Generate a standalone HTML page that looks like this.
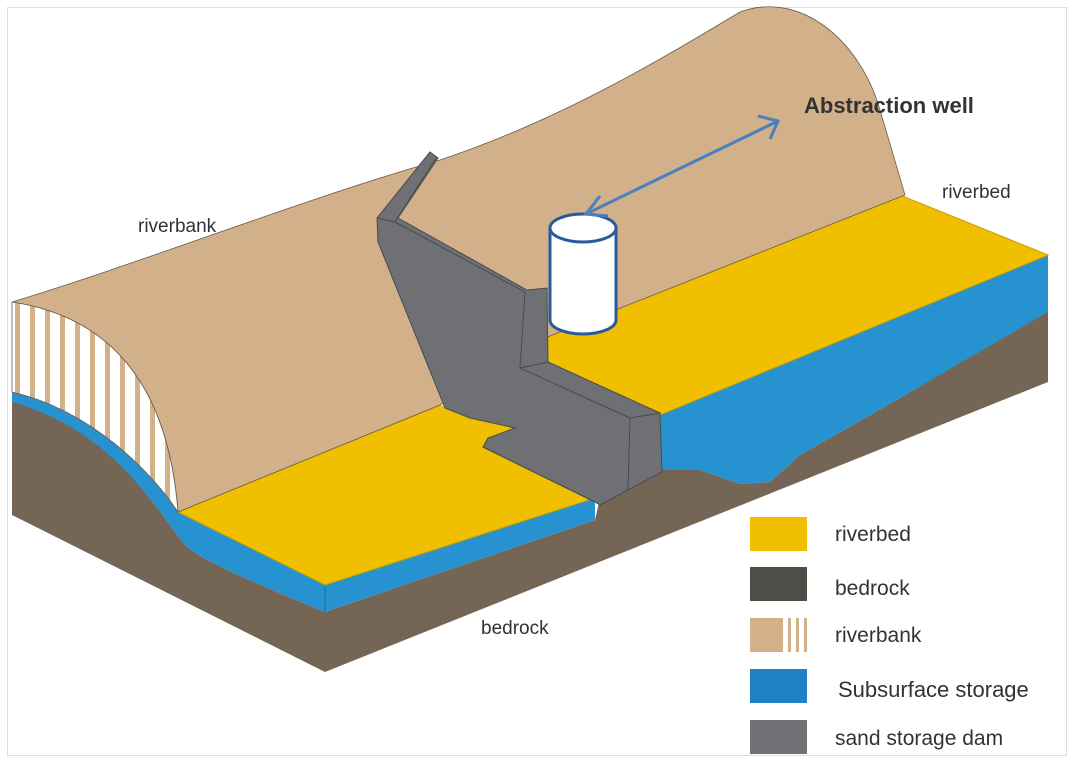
<!DOCTYPE html>
<html><head><meta charset="utf-8"><style>
html,body{margin:0;padding:0;background:#fff;}
svg{display:block;}
text{font-family:"Liberation Sans",sans-serif;fill:#333;}
</style></head><body>
<svg width="1072" height="762" viewBox="0 0 1072 762" xmlns="http://www.w3.org/2000/svg">
<defs>
<pattern id="hatch" patternUnits="userSpaceOnUse" width="15" height="10">
<rect width="15" height="10" fill="#fff"/>
<rect x="0" width="5" height="10" fill="#d2b08a"/>
</pattern>
<pattern id="hatch2" patternUnits="userSpaceOnUse" x="780" width="8" height="10">
<rect width="8" height="10" fill="#fff"/>
<rect x="0" width="3" height="10" fill="#d2b08a"/>
</pattern>
</defs>
<rect x="7.5" y="7.5" width="1059" height="748" fill="#fff" stroke="#ddd"/>
<!-- bedrock -->
<path d="M12,392 L12,515 L325,672 L1048,382 L1048,310 L900,398 L800,455 L770,482 L740,484 L700,470 L662,470 L640,478 L600,498 L595,520 L325,612 C260,585 200,560 185,545 C150,500 110,430 12,400 Z" fill="#746554"/>
<!-- blue left -->
<path d="M12,392 C90,410 150,470 178,512 L325,585 L595,498 L595,520 L325,612 C260,585 200,560 185,545 C150,500 110,430 12,402 Z" fill="#2692d0"/>
<line x1="325" y1="587" x2="325" y2="612" stroke="#1f6fa0" stroke-width="1"/>
<!-- blue right -->
<path d="M660,415 L1048,255 L1048,312 L900,398 L800,455 L770,482 L740,484 L700,470 L662,470 Z" fill="#2692d0"/>
<!-- yellow left -->
<path d="M178,512 L440,405 L470,412 L525,420 L535,445 L595,498 L325,585 Z" fill="#f0bf00"/>
<path d="M178,512 L440,405 M178,512 L325,585 L595,498" fill="none" stroke="#c9a000" stroke-width="1"/>
<!-- yellow right -->
<path d="M540,340 L900,195 L1048,255 L660,415 L548,362 Z" fill="#f0bf00" stroke="#c9a000" stroke-width="1"/>
<!-- bank -->
<path d="M12,302 C150,260 300,200 440,160 C560,120 660,60 740,12 C800,-10 860,40 880,110 L905,195 L540,340 L440,405 L178,512 C170,410 130,320 12,302 Z" fill="#d2b08a" stroke="#6b5a48" stroke-width="0.8"/>
<!-- hatch -->
<path d="M12,302 C130,320 170,410 178,512 C150,470 90,410 12,392 Z" fill="url(#hatch)" stroke="#6b5a48" stroke-width="0.8"/>
<!-- dam -->
<path d="M430,152 L438,158 L398,218 L527,290 L547,288 L548,362 L660,413 L662,472 L628,490 L600,505 L595,502 L483,447 L488,438 L515,428 L470,418 L445,408 L378,242 L377,218 Z" fill="#6e7074" stroke="#4a4b4e" stroke-width="1"/>
<path d="M377,218 L395,222 L525,292 L520,368 L630,418 L628,490 M395,222 L436,158 M520,368 L548,362 M630,418 L660,413 M483,447 L595,502" fill="none" stroke="#4a4b4e" stroke-width="1"/>
<!-- well -->
<path d="M550,228 L550,320 A33,14 0 0 0 616,320 L616,228 Z" fill="#fff" stroke="#2b5a9a" stroke-width="3"/>
<ellipse cx="583" cy="228" rx="33" ry="14" fill="#fff" stroke="#2b5a9a" stroke-width="3"/>
<!-- arrow -->
<line x1="590" y1="212" x2="776" y2="122" stroke="#4a7fc0" stroke-width="3"/>
<path d="M600,196 L586,214 L608,216" fill="none" stroke="#4a7fc0" stroke-width="3"/>
<path d="M758,116 L778,121 L770,139" fill="none" stroke="#4a7fc0" stroke-width="3"/>
<text x="804" y="113" font-size="22" font-weight="bold" fill="#222">Abstraction well</text>
<text x="942" y="198" font-size="19">riverbed</text>
<text x="138" y="232" font-size="19">riverbank</text>
<text x="481" y="634" font-size="19">bedrock</text>
<!-- legend -->
<rect x="750" y="517" width="57" height="34" fill="#f0bf00"/>
<rect x="750" y="567" width="57" height="34" fill="#4f4d48"/>
<rect x="750" y="618" width="57" height="34" fill="#d2b08a"/>
<rect x="780" y="618" width="27" height="34" fill="url(#hatch2)"/>
<rect x="750" y="669" width="57" height="34" fill="#1f82c6"/>
<rect x="750" y="720" width="57" height="34" fill="#6e7074"/>
<text x="835" y="541" font-size="21">riverbed</text>
<text x="835" y="595" font-size="21">bedrock</text>
<text x="835" y="642" font-size="21">riverbank</text>
<text x="838" y="697" font-size="22" fill="#222">Subsurface storage</text>
<text x="835" y="745" font-size="21">sand storage dam</text>
</svg>
</body></html>
